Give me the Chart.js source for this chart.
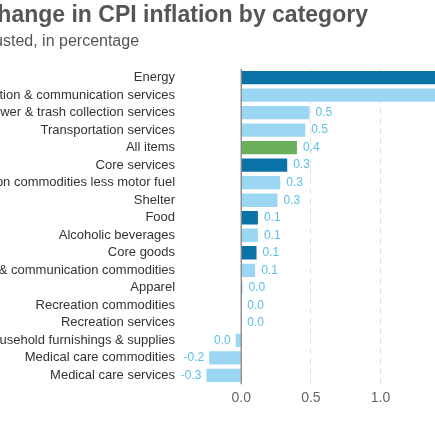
<!DOCTYPE html>
<html>
<head>
<meta charset="utf-8">
<script src="https://cdn.jsdelivr.net/npm/chart.js@4"></script>
<style>
  html, body { margin: 0; padding: 0; overflow: hidden; background: #fff; }
  #wrap { position: absolute; left: -110px; top: 0; width: 680px; height: 435px; }
</style>
</head>
<body>
<div id="wrap"><canvas id="cpiChart"></canvas></div>
<script>
const categories = [
    'Energy',
    'Education & communication services',
    'Water, sewer & trash collection services',
    'Transportation services',
    'All items',
    'Core services',
    'Transportation commodities less motor fuel',
    'Shelter',
    'Food',
    'Alcoholic beverages',
    'Core goods',
    'Education & communication commodities',
    'Apparel',
    'Recreation commodities',
    'Recreation services',
    'Household furnishings & supplies',
    'Medical care commodities',
    'Medical care services'
];
const changes = [1.7, 1.5, 0.49, 0.46, 0.4, 0.33, 0.28, 0.26, 0.12, 0.12, 0.11, 0.1, 0.01, 0.0, 0.0, -0.04, -0.23, -0.25];
const darkCats = ['Energy', 'Core services', 'Food', 'Core goods'];
const xTicks = [0, 0.5, 1.0, 1.5, 2.0];

const barColors = categories.map(c => {
    if (c === 'All items') return '#6aaf5a';
    if (darkCats.includes(c)) return '#0a72a6';
    return '#9bd6f2';
});

function fmt(v) {
    let s = v.toFixed(1);
    if (s === '-0.0') s = '0.0';
    return s;
}

const valueLabels = {
    id: 'valueLabels',
    afterDatasetsDraw(chart) {
        const ctx = chart.ctx;
        const meta = chart.getDatasetMeta(0);
        const area = chart.chartArea;
        // solid zero line
        const x0 = chart.scales.x.getPixelForValue(0);
        ctx.save();
        ctx.strokeStyle = '#777';
        ctx.lineWidth = 1.2;
        ctx.beginPath();
        ctx.moveTo(x0, area.top);
        ctx.lineTo(x0, area.bottom);
        ctx.stroke();

        ctx.font = '12px Arial, "Liberation Sans", sans-serif';
        ctx.fillStyle = '#5cbfe8';
        ctx.textBaseline = 'middle';
        meta.data.forEach((bar, i) => {
            const v = changes[i];
            if (v < 0) {
                ctx.textAlign = 'right';
                ctx.fillText(fmt(v), bar.x - 5, bar.y);
            } else {
                ctx.textAlign = 'left';
                ctx.fillText(fmt(v), bar.x + 6, bar.y);
            }
        });
        ctx.restore();
    }
};

new Chart(document.getElementById('cpiChart'), {
    type: 'bar',
    data: {
        labels: categories,
        datasets: [{
            data: changes,
            backgroundColor: barColors,
            borderWidth: 0,
            categoryPercentage: 0.8,
            barPercentage: 0.95
        }]
    },
    options: {
        indexAxis: 'y',
        responsive: true,
        maintainAspectRatio: false,
        animation: false,
        layout: { padding: { top: 0, bottom: 22, left: 0, right: 0 } },
        plugins: {
            legend: { display: false },
            tooltip: { enabled: false },
            title: {
                display: true,
                text: 'Monthly change in CPI inflation by category',
                align: 'start',
                color: '#555',
                font: { family: 'Arial, "Liberation Sans"', size: 23, weight: 'bold' },
                padding: { top: 2, bottom: 2 }
            },
            subtitle: {
                display: true,
                text: 'Seasonally adjusted, in percentage',
                align: 'start',
                color: '#555',
                font: { family: 'Arial, "Liberation Sans"', size: 16 },
                padding: { bottom: 18 }
            }
        },
        scales: {
            x: {
                min: -0.36,
                max: 2.36,
                afterBuildTicks(axis) { axis.ticks = xTicks.map(v => ({ value: v })); },
                grid: {
                    color: ctx => ctx.tick && ctx.tick.value === 0 ? 'rgba(0,0,0,0)' : '#ddd',
                    drawTicks: false
                },
                border: { display: false, dash: [5, 5] },
                ticks: {
                    color: '#666',
                    font: { family: 'Arial, "Liberation Sans"', size: 14 },
                    padding: 6,
                    callback: v => v.toFixed(1)
                }
            },
            y: {
                afterFit(axis) { axis.width += 29; },
                grid: { display: false },
                border: { display: false },
                ticks: {
                    color: '#333',
                    font: { family: 'Arial, "Liberation Sans"', size: 13 },
                    padding: 8,
                    autoSkip: false
                }
            }
        }
    },
    plugins: [valueLabels]
});
</script>
</body>
</html>
